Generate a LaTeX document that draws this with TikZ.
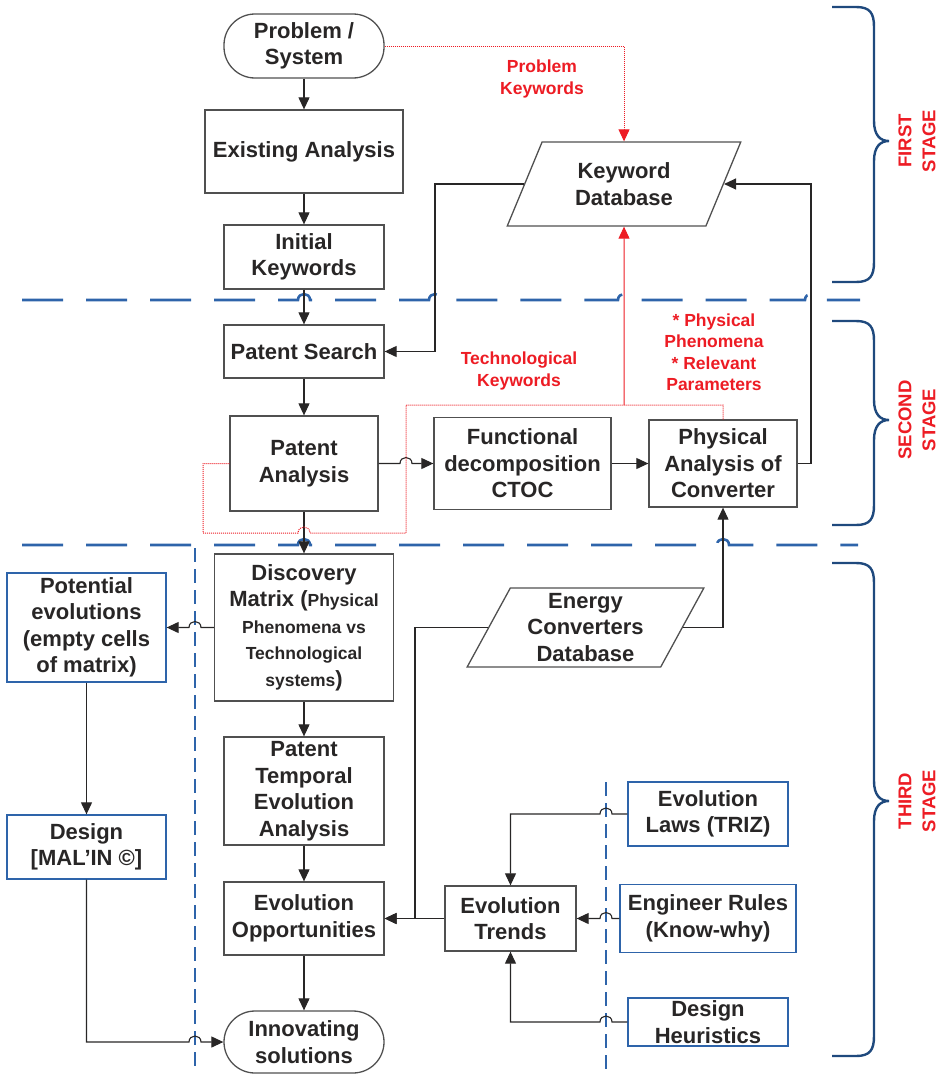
\documentclass[tikz,border=0pt]{standalone}
\usepackage{fontspec}
\setmainfont{Liberation Sans}
\usetikzlibrary{arrows.meta, shapes.geometric}
\definecolor{inkgray}{RGB}{40,38,38}
\definecolor{framegray}{RGB}{80,80,80}
\definecolor{laneblue}{RGB}{46,100,170}
\definecolor{bracenavy}{RGB}{31,73,125}
\definecolor{keyred}{RGB}{237,28,36}
\newcommand\boxfont{\fontsize{22}{26.5}\selectfont\bfseries}
\newcommand\notefont{\fontsize{17.5}{21.5}\selectfont\bfseries}
% small jumps over crossing lines (rightwards / leftwards)
\newcommand\hopR[2]{-- (#1-6,#2) .. controls (#1-6,#2-8) and (#1+6,#2-8) .. (#1+6,#2)}
\newcommand\hopL[2]{-- (#1+6,#2) .. controls (#1+6,#2-8) and (#1-6,#2-8) .. (#1-6,#2)}
\tikzset{
    box/.style={draw=framegray, line width=1.3pt, rectangle, align=center, inner sep=0pt, text=inkgray, font=\boxfont},
    bluebox/.style={box, draw=laneblue},
    term/.style={box, rounded corners=31pt},
    db/.style={box, trapezium, trapezium left angle=64, trapezium right angle=116, trapezium stretches},
    link/.style={draw=inkgray, line width=1.1pt, -{Triangle[length=12pt,width=11pt]}},
    keyflow/.style={draw=keyred, line width=1pt, dash pattern=on 1pt off 1pt},
    note/.style={text=keyred, align=center, font=\notefont},
    lane/.style={draw=laneblue, line width=2.6pt, dash pattern=on 41pt off 23pt},
    split/.style={draw=laneblue, line width=1.4pt, dash pattern=on 14pt off 7pt},
    stagebrace/.style={draw=bracenavy, line width=2.4pt},
    stagename/.style={text=keyred, align=center, rotate=90, font=\fontsize{18.5}{24}\selectfont\bfseries}
}

\begin{document}
\begin{tikzpicture}[x=1pt, y=-1pt]
    \useasboundingbox (0,0) rectangle (941,1076);
    % stage separators
    \draw[lane] (22,300) \hopR{304}{300} \hopR{435}{300} \hopR{624}{300} \hopR{811}{300} -- (860,300);
    \draw[lane] (22,545) \hopR{304}{545} \hopR{723}{545} -- (858,545);
    \draw[split] (195,548) -- (195,1072);
    \draw[split] (606,782) -- (606,1076);

    % first stage
    \node[term, minimum width=160pt, minimum height=64pt] (prob) at (304,46) {Problem /\\System};
    \node[box, minimum width=198pt, minimum height=83pt] (exist) at (304,151.5) {Existing Analysis};
    \node[box, minimum width=160pt, minimum height=64pt] (initkw) at (304,257) {Initial\\Keywords};
    \node[db, minimum width=234pt, minimum height=84pt] (kwdb) at (624,184) {Keyword\\Database};

    % second stage
    \node[box, minimum width=160pt, minimum height=53pt] (search) at (304,351.5) {Patent Search};
    \node[box, minimum width=148pt, minimum height=95pt] (patan) at (304,463.5) {Patent\\Analysis};
    \node[box, minimum width=177pt, minimum height=92pt] (funcdec) at (522.5,463.5) {Functional\\decomposition\\CTOC};
    \node[box, minimum width=148pt, minimum height=87pt] (physan) at (723,463.5) {Physical\\Analysis of\\Converter};

    % third stage
    \node[bluebox, minimum width=159pt, minimum height=109pt] (potev) at (86.5,627.5) {Potential\\evolutions\\(empty cells\\of matrix)};
    \node[box, minimum width=179pt, minimum height=147pt] (dmatrix) at (304,627.5)
        {\boxfont Discovery\\\boxfont Matrix (\notefont Physical\\\notefont Phenomena vs\\\notefont Technological\\\notefont systems\boxfont)};
    \node[db, minimum width=237pt, minimum height=79pt] (ecdb) at (585.5,627.5) {Energy\\Converters\\Database};
    \node[box, minimum width=160pt, minimum height=108pt] (ptea) at (304,791) {Patent\\Temporal\\Evolution\\Analysis};
    \node[box, minimum width=160pt, minimum height=73pt] (evopp) at (304,918.5) {Evolution\\Opportunities};
    \node[term, minimum width=160pt, minimum height=62pt] (innov) at (304,1042) {Innovating\\solutions};
    \node[bluebox, minimum width=159pt, minimum height=64pt] (malin) at (86.5,847) {Design\\{[MAL’IN ©]}};
    \node[box, minimum width=131pt, minimum height=65pt] (trends) at (510.5,918.5) {Evolution\\Trends};
    \node[bluebox, minimum width=160pt, minimum height=64pt] (laws) at (708,814) {Evolution\\Laws (TRIZ)};
    \node[bluebox, minimum width=176pt, minimum height=68pt] (rules) at (708,918.5) {Engineer Rules\\(Know-why)};
    \node[bluebox, minimum width=160pt, minimum height=48pt] (heur) at (708,1022) {Design\\Heuristics};

    % main flow
    \draw[link] (prob) -- (exist);
    \draw[link] (exist) -- (initkw);
    \draw[link] (initkw) -- (search);
    \draw[link] (search) -- (patan);
    \draw[link] (patan) -- (dmatrix);
    \draw[link] (dmatrix) -- (ptea);
    \draw[link] (ptea) -- (evopp);
    \draw[link] (evopp) -- (innov);
    \draw[link] (patan.east) \hopR{406}{463.5} -- (funcdec.west);
    \draw[link] (funcdec) -- (physan);
    \draw[link] (physan.east) -| (811,184) -- (kwdb.right side);
    \draw[link] (kwdb.left side) -| (435,351.5) -- (search.east);
    \draw[link] (dmatrix.west) \hopL{195}{627.5} -- (potev.east);
    \draw[link] (potev) -- (malin);
    \draw[link] (malin.south) -- (86.5,1042) \hopR{195}{1042} -- (innov.west);
    \draw[link] (ecdb.left side) -| (415,918.5) -- (evopp.east);
    \draw[link] (ecdb.right side) -| (physan.south);
    \draw[link] (trends) -- (evopp);
    \draw[link] (laws.west) \hopL{606}{814} -| (trends.north);
    \draw[link] (rules.west) \hopL{606}{918.5} -- (trends.east);
    \draw[link] (heur.west) \hopL{606}{1022} -| (trends.south);

    % keyword feedback
    \coordinate (kwjoin) at (624,405);
    \draw[keyflow, -{Triangle[length=12pt,width=11pt]}] (prob.east) -| (kwdb.north);
    \draw[draw=keyred, line width=1pt, -{Triangle[length=12pt,width=11pt]}, keyred] (kwjoin) -- (kwdb.south);
    \draw[keyflow] (physan.north) |- (kwjoin) -- (406,405) -- (406,533) \hopL{304}{533} -| (203,463.5) -- (patan.west);
    \node[note] (probkw) at (542,79) {Problem\\Keywords};
    \node[note] (techkw) at (519,371) {Technological\\Keywords};
    \node[note] (physkw) at (714,352) {* Physical\\Phenomena\\* Relevant\\Parameters};

    % stages
    \foreach \t/\m/\b in {7/141/282, 321/420/525, 563/801/1056}
        \draw[stagebrace] (832,\t) -- (856,\t) .. controls (870,\t) and (874,\t+6) .. (874,\t+20)
            -- (874,\m-20) .. controls (874,\m-6) and (880,\m) .. (889,\m)
            .. controls (880,\m) and (874,\m+6) .. (874,\m+20)
            -- (874,\b-20) .. controls (874,\b-6) and (870,\b) .. (856,\b) -- (832,\b);
    \node[stagename] (first) at (917,141) {FIRST\\STAGE};
    \node[stagename] (second) at (917,420) {SECOND\\STAGE};
    \node[stagename] (third) at (917,801) {THIRD\\STAGE};
\end{tikzpicture}
\end{document}
